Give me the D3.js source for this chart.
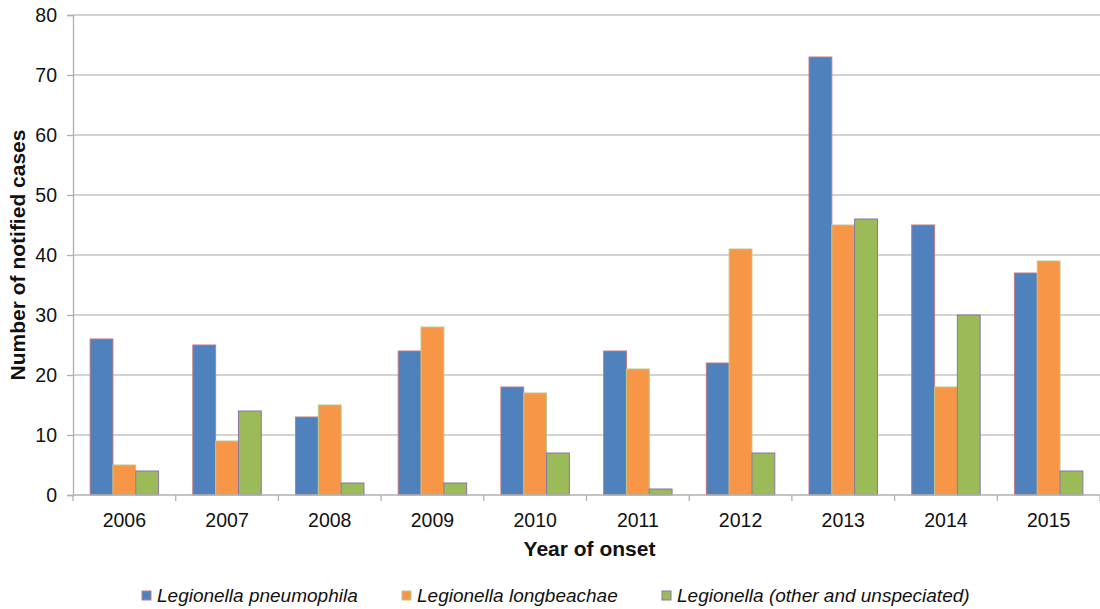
<!DOCTYPE html>
<html>
<head>
<meta charset="utf-8">
<script src="https://cdn.jsdelivr.net/npm/d3@7"></script>
<style>
  html, body { margin: 0; padding: 0; background: #fff; }
  svg { display: block; font-family: "Liberation Sans", Arial, sans-serif; }
</style>
</head>
<body>
<svg id="chart" width="1100" height="609"></svg>
<script>
// Notified cases by year of onset and species
const years = ["2006","2007","2008","2009","2010","2011","2012","2013","2014","2015"];
const seriesNames = ["Legionella pneumophila", "Legionella longbeachae", "Legionella (other and unspeciated)"];
const pneumophila = [26, 25, 13, 24, 18, 24, 22, 73, 45, 37];
const longbeachae = [5, 9, 15, 28, 17, 21, 41, 45, 18, 39];
const otherUnspeciated = [4, 14, 2, 2, 7, 1, 7, 46, 30, 4];
const yTicks = [0, 10, 20, 30, 40, 50, 60, 70, 80];

const seriesValues = [pneumophila, longbeachae, otherUnspeciated];
const fills = ["#4F81BD", "#F79646", "#9BBB59"];
const strokes = ["#c07a86", "#b9c98e", "#8a74a8"];

const svg = d3.select("#chart");
const m = { left: 73, right: 0, top: 15, bottom: 114 };
const W = 1100 - m.left - m.right;
const H = 609 - m.top - m.bottom;
const tickFont = 19.5;

const g = svg.append("g").attr("transform", `translate(${m.left},${m.top})`);

const x0 = d3.scaleBand().domain(years).range([0, W]).paddingInner(1/3).paddingOuter(1/6);
const x1 = d3.scaleBand().domain(d3.range(seriesNames.length)).range([0, x0.bandwidth()]);
const y = d3.scaleLinear().domain([0, 80]).range([H, 0]);

// Gridlines
g.append("g").selectAll("line").data(yTicks.filter(t => t > 0)).join("line")
  .attr("x1", 0).attr("x2", W)
  .attr("y1", d => y(d)).attr("y2", d => y(d))
  .attr("stroke", "#c4c4c4").attr("stroke-width", 1.5);

// Y axis
const yAxis = g.append("g").call(d3.axisLeft(y).tickValues(yTicks).tickSize(6).tickPadding(10));
yAxis.select(".domain").attr("stroke", "#b0b0b0").attr("stroke-width", 1.3);
yAxis.selectAll(".tick line").attr("stroke", "#b0b0b0").attr("stroke-width", 1.3);
yAxis.selectAll(".tick text").attr("font-size", tickFont).attr("fill", "#111")
  .attr("font-family", "Liberation Sans, Arial, sans-serif");

// Bars
const rows = years.map((yr, i) => ({ yr, vals: seriesValues.map(s => s[i]) }));
g.append("g").selectAll("g").data(rows).join("g")
  .attr("transform", d => `translate(${x0(d.yr)},0)`)
  .selectAll("rect").data(d => d.vals.map((v, k) => ({ v, k }))).join("rect")
  .attr("x", d => x1(d.k))
  .attr("width", x1.bandwidth())
  .attr("y", d => y(d.v))
  .attr("height", d => y(0) - y(d.v))
  .attr("fill", d => fills[d.k])
  .attr("stroke", d => strokes[d.k])
  .attr("stroke-width", 1);

// X axis with boundary ticks between categories
const xAxisG = g.append("g").attr("transform", `translate(0,${H})`);
xAxisG.append("line").attr("x1", 0).attr("x2", W).attr("y1", 0).attr("y2", 0)
  .attr("stroke", "#b0b0b0").attr("stroke-width", 1.3);
const step = x0.step();
xAxisG.selectAll("line.tk").data(d3.range(years.length + 1)).join("line")
  .attr("class", "tk")
  .attr("x1", d => d * step).attr("x2", d => d * step)
  .attr("y1", 0).attr("y2", 6)
  .attr("stroke", "#b0b0b0").attr("stroke-width", 1.3);
xAxisG.selectAll("text").data(years).join("text")
  .attr("x", d => x0(d) + x0.bandwidth() / 2)
  .attr("y", 32)
  .attr("text-anchor", "middle")
  .attr("font-size", tickFont).attr("fill", "#111")
  .text(d => d);

// Axis titles
svg.append("text")
  .attr("x", m.left + W / 2 + 3).attr("y", 556)
  .attr("text-anchor", "middle")
  .attr("font-size", 21).attr("font-weight", "bold").attr("fill", "#111")
  .text("Year of onset");
svg.append("text")
  .attr("transform", `translate(25,${m.top + H / 2}) rotate(-90)`)
  .attr("text-anchor", "middle")
  .attr("font-size", 21).attr("font-weight", "bold").attr("fill", "#111")
  .text("Number of notified cases");

// Legend
const legendX = [142, 402, 662];
const legend = svg.append("g").selectAll("g").data(seriesNames).join("g")
  .attr("transform", (d, i) => `translate(${legendX[i]},591)`);
legend.append("rect")
  .attr("x", 0).attr("y", 0).attr("width", 9).attr("height", 9)
  .attr("fill", (d, i) => fills[i]).attr("stroke", (d, i) => strokes[i]).attr("stroke-width", 1);
legend.append("text")
  .attr("x", 15).attr("y", 11)
  .attr("font-size", 19).attr("font-style", "italic").attr("fill", "#111")
  .text(d => d);
</script>
</body>
</html>
